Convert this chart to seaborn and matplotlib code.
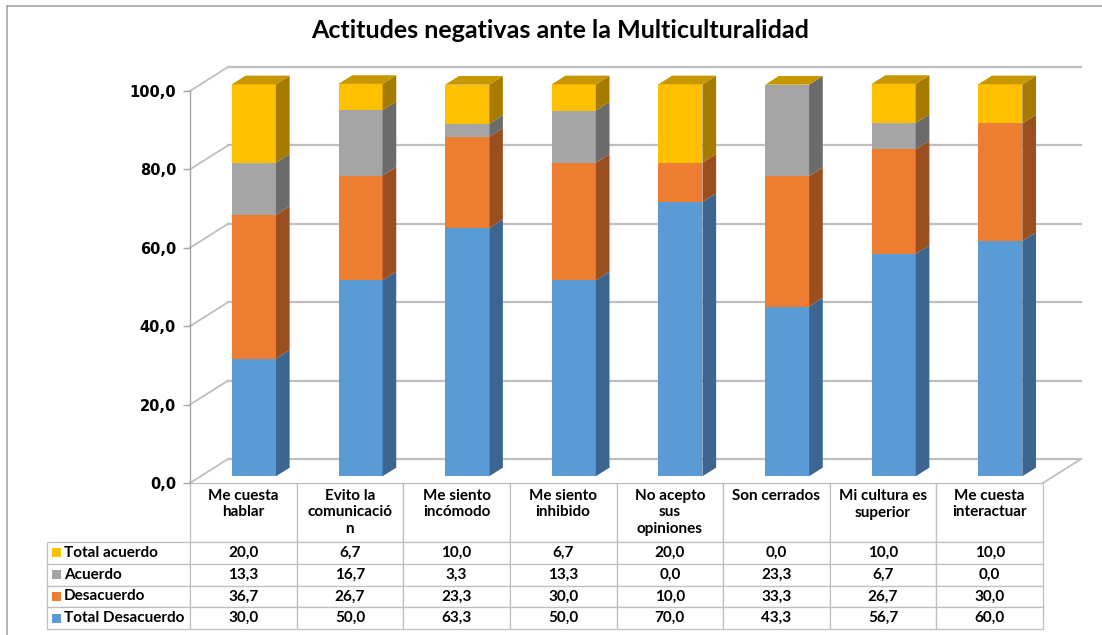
import numpy as np
import pandas as pd
import matplotlib
matplotlib.use("Agg")
import matplotlib.pyplot as plt
import matplotlib.transforms as mtransforms
from matplotlib.patches import Polygon, Rectangle
from matplotlib.lines import Line2D
import seaborn as sns

# === Datos ===
categorias = ["Me cuesta\nhablar", "Evito la\ncomunicació\nn", "Me siento\nincómodo",
              "Me siento\ninhibido", "No acepto\nsus\nopiniones", "Son cerrados",
              "Mi cultura es\nsuperior", "Me cuesta\ninteractuar"]
series = ["Total Desacuerdo", "Desacuerdo", "Acuerdo", "Total acuerdo"]
total_desacuerdo = [30.0, 50.0, 63.3, 50.0, 70.0, 43.3, 56.7, 60.0]
desacuerdo = [36.7, 26.7, 23.3, 30.0, 10.0, 33.3, 26.7, 30.0]
acuerdo = [13.3, 16.7, 3.3, 13.3, 0.0, 23.3, 6.7, 0.0]
total_acuerdo = [20.0, 6.7, 10.0, 6.7, 20.0, 0.0, 10.0, 10.0]
yticks = [0, 20, 40, 60, 80, 100]

colores = {"Total Desacuerdo": "#5B9BD5", "Desacuerdo": "#ED7D31",
           "Acuerdo": "#A5A5A5", "Total acuerdo": "#FFC000"}
lados = {"Total Desacuerdo": "#3C6690", "Desacuerdo": "#9B4F1F",
         "Acuerdo": "#6B6B6B", "Total acuerdo": "#A67C00"}
techo = "#C79700"
gris = "#BFBFBF"

plt.rcParams["font.family"] = ["Lato", "DejaVu Sans"]

# === Geometria (pixeles) ===
W, H = 1102, 635
ax_l, ax_r, ax_t, ax_b = 190, 1043, 91, 483
n = len(categorias)
ux = (ax_r - ax_l) / n
uy = (ax_b - ax_t) / 100
dx, dy = 38 / ux, 24 / uy          # profundidad de la pared del fondo
fb, fd = 0.28, 0.36                # posicion y fondo de las barras
sx, sy = fb * dx, fb * dy
ddx, ddy = fd * dx, fd * dy
ancho = 44 / ux

fig = plt.figure(figsize=(W / 100, H / 100), dpi=100)
ax = fig.add_axes([ax_l / W, 1 - ax_b / H, (ax_r - ax_l) / W, (ax_b - ax_t) / H])

valores = np.array([total_desacuerdo, desacuerdo, acuerdo, total_acuerdo])
acum = valores.cumsum(axis=0)
df = pd.DataFrame({"cat": np.tile(categorias, len(series)),
                   "serie": np.repeat(series, n),
                   "acum": acum.ravel()})

sns.barplot(data=df, x="cat", y="acum", hue="serie", order=categorias,
            hue_order=series[::-1], palette=colores, dodge=False, width=ancho,
            saturation=1, errorbar=None, legend=False, ax=ax, zorder=3)
barras = list(ax.patches)
desplaza = mtransforms.Affine2D().translate(sx, sy) + ax.transData
for p in barras:
    p.set_transform(desplaza)
    p.set_clip_on(False)

# caras laterales y superiores
for i in range(n):
    xr = i + ancho / 2 + sx
    xl = i - ancho / 2 + sx
    base = 0.0
    for k, s in enumerate(series):
        top = acum[k, i]
        if valores[k, i] > 0:
            ax.add_patch(Polygon([(xr, base + sy), (xr + ddx, base + sy + ddy),
                                  (xr + ddx, top + sy + ddy), (xr, top + sy)],
                                 closed=True, facecolor=lados[s], edgecolor="none",
                                 zorder=3, clip_on=False))
        base = top
    T = acum[-1, i] + sy
    ax.add_patch(Polygon([(xl, T), (xl + ddx, T + ddy), (xr + ddx, T + ddy), (xr, T)],
                         closed=True, facecolor=techo, edgecolor="none",
                         zorder=3, clip_on=False))

# pared del fondo y suelo
x0, x1 = -0.5, n - 0.5
for v in yticks:
    ax.plot([x0, x0 + dx], [v, v + dy], color=gris, lw=1.3, zorder=1, clip_on=False)
    ax.plot([x0 + dx, x1 + dx], [v + dy, v + dy], color=gris, lw=1.6, zorder=1, clip_on=False)
ax.plot([x1, x1 + dx], [0, dy], color=gris, lw=1.3, zorder=1, clip_on=False)

ax.set_xlim(x0, x1)
ax.set_ylim(0, 100)
ax.set_xlabel("")
ax.set_ylabel("")
ax.set_xticks([])
ax.set_yticks(yticks)
ax.set_yticklabels([f"{v:.1f}".replace(".", ",") for v in yticks],
                   fontfamily="DejaVu Sans", fontweight="bold", fontsize=10.5)
ax.tick_params(axis="y", length=5, width=1, color="#A6A6A6", pad=5)
for lado in ["top", "right", "bottom"]:
    ax.spines[lado].set_visible(False)
ax.spines["left"].set_color("#A6A6A6")
ax.spines["left"].set_linewidth(1)
ax.patch.set_visible(False)

# === Tabla de datos ===
tab_l, tab_b = 47, 629
h_head = 59
h_fila = (tab_b - ax_b - h_head) / len(series)
filas_orden = series[::-1]
cab = [c + "\n" * (2 - c.count("\n")) for c in categorias]
celdas = [[""] + cab]
for s in filas_orden:
    celdas.append([s] + [f"{v:.1f}".replace(".", ",") for v in valores[series.index(s)]])

tabla = ax.table(cellText=celdas, cellLoc="center",
                 bbox=[(tab_l - ax_l) / (ax_r - ax_l), (ax_b - tab_b) / (ax_b - ax_t),
                       (ax_r - tab_l) / (ax_r - ax_l), (tab_b - ax_b) / (ax_b - ax_t)])
tabla.auto_set_font_size(False)
for (r, c), cell in tabla.get_celld().items():
    cell.set_edgecolor(gris)
    cell.set_linewidth(0.9)
    cell.set_width(ax_l - tab_l if c == 0 else ux)
    cell.set_height(h_head if r == 0 else h_fila)
    cell.get_text().set_fontsize(11)
    cell.get_text().set_fontweight("bold")
    if c == 0:
        cell.get_text().set_horizontalalignment("left")
        cell.PAD = 0.12
    if r == 0 and c == 0:
        cell.visible_edges = "open"
        cell.set_facecolor("none")

# cuadritos de la leyenda
for j, s in enumerate(filas_orden):
    yc = ax_b + h_head + h_fila * (j + 0.5)
    fig.add_artist(Rectangle((52 / W, 1 - (yc + 4.5) / H), 9 / W, 9 / H,
                             transform=fig.transFigure, facecolor=colores[s],
                             edgecolor="none"))

# marco y titulo
fig.add_artist(Line2D([7 / W, 1], [1 - 6 / H, 1 - 6 / H], transform=fig.transFigure,
                      color="#A6A6A6", lw=1.2))
fig.add_artist(Line2D([7 / W, 7 / W], [0, 1 - 6 / H], transform=fig.transFigure,
                      color="#A6A6A6", lw=1.2))
fig.text(560 / W, 1 - 31 / H, "Actitudes negativas ante la Multiculturalidad",
         ha="center", va="center", fontsize=18, fontweight="bold")

fig.savefig("out.png", dpi=100)
